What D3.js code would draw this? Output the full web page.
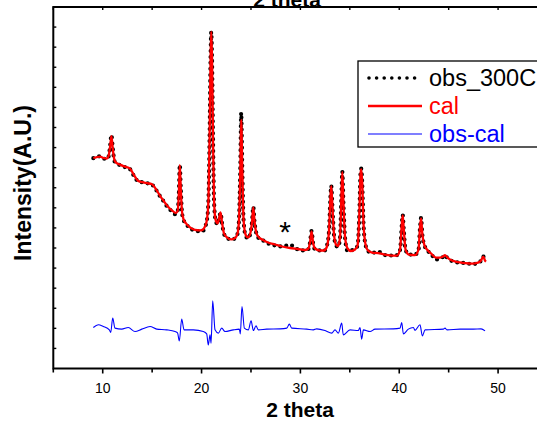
<!DOCTYPE html>
<html>
<head>
<meta charset="utf-8">
<script src="https://cdn.jsdelivr.net/npm/d3@7"></script>
<style>
body { margin: 0; background: #fff; }
svg { display: block; font-family: "Liberation Sans", Arial, sans-serif; }
</style>
</head>
<body>
<div id="chart"></div>
<script>
// 2 theta positions shared by obs and cal
var twoTheta = [9.05, 9.42, 9.73, 10.13, 10.40, 10.59, 10.74, 10.88, 11.02, 11.19, 11.35, 11.75, 12.25, 12.76, 13.17, 13.57, 13.98, 14.48, 14.99, 15.39,
  15.80, 16.20, 16.61, 17.01, 17.37, 17.57, 17.70, 17.80, 17.90, 18.02, 18.18, 18.43, 18.83, 19.34, 19.85, 20.15, 20.35, 20.55, 20.70, 20.81,
  20.91, 20.98, 21.06, 21.16, 21.26, 21.41, 21.62, 21.77, 21.92, 22.07, 22.27, 22.58, 22.98, 23.39, 23.64, 23.79, 23.92, 24.01, 24.12, 24.25,
  24.45, 24.70, 24.95, 25.11, 25.23, 25.36, 25.56, 25.81, 26.22, 26.73, 27.43, 28.14, 28.95, 29.76, 30.46, 30.82, 30.97, 31.13, 31.28, 31.48,
  31.99, 32.39, 32.69, 32.90, 33.03, 33.12, 33.23, 33.40, 33.60, 33.81, 34.01, 34.14, 34.24, 34.36, 34.52, 34.77, 35.12, 35.53, 35.78, 35.96,
  36.08, 36.16, 36.26, 36.39, 36.59, 36.84, 37.25, 37.85, 38.56, 39.27, 39.78, 40.08, 40.26, 40.35, 40.46, 40.64, 40.99, 41.60, 41.95, 42.10,
  42.21, 42.34, 42.56, 42.81, 43.22, 43.72, 44.13, 44.43, 44.63, 44.83, 45.34, 45.95, 46.66, 47.37, 47.97, 48.28, 48.50, 48.68, 48.78];

var calValues = [209.5, 210.5, 211, 209.5, 209, 211.5, 220.5, 231.5, 218.5, 207.5, 205, 203, 201, 199, 192.5, 187, 185.5, 184.5, 183.5, 178.5,
  172, 166.5, 161, 157.5, 155, 156.5, 173.5, 202.5, 178.5, 156.5, 148.5, 144.5, 140.5, 138, 137.5, 138.5, 141.5, 148.5, 168.5, 228.5,
  308.5, 335.5, 308.5, 228.5, 168.5, 148.5, 144.5, 149.5, 155.5, 145.5, 134.5, 130.5, 128.5, 130, 134.5, 148.5, 198.5, 247.5, 198.5, 148.5,
  133.5, 130.5, 135.5, 146.5, 160.5, 146.5, 134.5, 130.5, 128, 125.5, 123.5, 121.5, 120, 119, 118, 119.5, 125.5, 136.5, 125.5, 119.5,
  117.5, 117.5, 121.5, 138.5, 168.5, 181.5, 163.5, 133.5, 123.5, 122, 130.5, 168.5, 195.5, 163.5, 130.5, 119.5, 117, 118.5, 122.5, 153.5,
  193.5, 198.5, 183.5, 143.5, 123.5, 117.5, 115.5, 115, 113.5, 112.5, 112.5, 118.5, 143.5, 152.5, 138.5, 118.5, 113.5, 113, 118.5, 140.5,
  149.5, 133.5, 122.5, 118.5, 114.5, 110.5, 110.5, 111.5, 113, 111, 107.5, 106, 105, 104.5, 105.5, 107.5, 111.5, 107.5, 106.5];

var obsValues = [209.5, 210.5, 211.5, 209, 208.5, 211, 221, 232.5, 219, 206.5, 204.5, 202.5, 200.5, 198.5, 191.5, 186.5, 185.5, 184.5, 183, 178,
  171.5, 166, 160, 156.5, 153.5, 156, 174, 203, 179, 155.5, 148, 144, 139.5, 137.5, 136.5, 137, 141, 148, 169, 229,
  309, 335, 309, 229, 168, 148, 143.5, 149, 155, 145, 134, 130, 128.5, 129.5, 134, 149, 201, 254.5, 200, 148,
  132.5, 129.5, 135, 146.5, 161, 146, 134, 129.5, 127.5, 124.5, 122.5, 121.5, 123, 118.5, 117.5, 119, 125.5, 137, 125, 118.5,
  117.5, 117, 122.5, 138, 169, 182, 163, 133, 122.5, 121, 130, 169, 196, 163, 130, 117, 117.5, 119.5, 122, 153,
  194, 199, 183, 143, 123, 117, 115, 116.5, 113, 112.5, 113, 118, 143, 153, 138, 118, 113.5, 113.5, 118, 140,
  150, 133, 122.5, 118, 114, 108.5, 110, 111, 113, 110.5, 107, 105.5, 105, 104, 105, 107.5, 111.5, 107, 106.5];

// obs - cal difference curve
var diffTheta = [9.05, 9.55, 10.06, 10.67, 10.81, 11.01, 11.24, 11.92, 12.59, 13.27, 13.95, 14.79, 15.46, 16.48, 17.32, 17.57, 17.75, 17.99, 18.23, 19.17,
  20.18, 20.52, 20.68, 20.86, 20.96, 21.13, 21.36, 21.70, 22.04, 22.37, 23.21, 23.82, 23.92, 24.09, 24.33, 24.73, 25.01, 25.24, 25.51, 25.74,
  26.59, 27.94, 28.62, 28.88, 29.12, 30.64, 31.31, 31.65, 32.49, 33.17, 33.50, 33.84, 34.18, 34.34, 35.02, 35.86, 36.03, 36.20, 36.37, 37.05,
  37.55, 39.40, 40.08, 40.25, 40.42, 40.92, 41.43, 41.60, 42.10, 42.34, 42.61, 44.46, 44.63, 44.83, 46.15, 47.50, 48.28, 48.68];
var diffValues = [2.3, 5, 3.3, 0, -2.7, 11.7, 1.7, 0.7, 2.3, -1.7, 0.7, 3.3, 0.7, 0, -1.7, -3, -11, 10.7, 0, 0,
  -1.7, -4, -15, -5, -13.3, 29, 0, -3.3, 1.7, -1.7, 0, 0.7, -4, 23.3, 1.7, 0, 9, -0.7, 4, 0,
  0.7, 1, 1.7, 5.7, 1.7, 0.7, 0, 1, -0.7, -3.3, 0, -3.3, 6.7, -5, 0, -0.7, 2.3, -9.3, 0, -1.7,
  0.7, 1, 1.7, 7.3, -4, 0.7, 2.3, -0.5, 5, -6, 0, 0.7, 1.7, 0, 0.7, 0.7, 1, -1];

var xTicks = [10, 20, 30, 40, 50];
var xMinorTicks = [5, 15, 25, 35, 45, 55];
var yTicks = [20, 40, 60, 80, 100, 120, 140, 160, 180, 200, 220, 240, 260, 280, 300, 320, 340];
var legendNames = ['obs_300C', 'cal', 'obs-cal'];
var legendColors = ['#000', '#ff0000', '#0000ff'];

var width = 537, height = 423;
var diffOffset = 38.5;

var svg = d3.select('#chart').append('svg')
    .attr('width', width)
    .attr('height', height);

var x = d3.scaleLinear().domain([5, 55]).range([53.3, 547.5]);
var y = d3.scaleLinear().domain([0, 360]).range([368.5, 7]);

// frame
svg.append('rect')
    .attr('x', x(5)).attr('y', y(360))
    .attr('width', x(55) - x(5)).attr('height', y(0) - y(360))
    .attr('fill', 'none').attr('stroke', '#000').attr('stroke-width', 2);

// bottom axis, outward ticks
var bottom = svg.append('g').attr('transform', 'translate(0,' + y(0) + ')');
bottom.selectAll('.maj').data(xTicks).enter().append('line')
    .attr('x1', function(d) { return x(d); }).attr('x2', function(d) { return x(d); })
    .attr('y1', 0).attr('y2', 5).attr('stroke', '#000').attr('stroke-width', 1.6);
bottom.selectAll('.min').data(xMinorTicks).enter().append('line')
    .attr('x1', function(d) { return x(d); }).attr('x2', function(d) { return x(d); })
    .attr('y1', 0).attr('y2', 4).attr('stroke', '#000').attr('stroke-width', 1.6);
bottom.selectAll('text').data(xTicks).enter().append('text')
    .attr('x', function(d) { return x(d); }).attr('y', 24)
    .attr('text-anchor', 'middle').attr('font-size', 14)
    .text(function(d) { return d; });

// top axis, inward ticks
svg.selectAll('.toptick').data(xTicks.concat(xMinorTicks)).enter().append('line')
    .attr('x1', function(d) { return x(d); }).attr('x2', function(d) { return x(d); })
    .attr('y1', y(360)).attr('y2', y(360) + 3).attr('stroke', '#000').attr('stroke-width', 1.4);

// left axis, inward ticks without labels
svg.selectAll('.ytick').data(yTicks).enter().append('line')
    .attr('x1', x(5)).attr('x2', x(5) + 3)
    .attr('y1', function(d) { return y(d); }).attr('y2', function(d) { return y(d); })
    .attr('stroke', '#000').attr('stroke-width', 1.4);

// titles (top one is clipped by the window edge, as in the original)
svg.append('text').attr('x', 300).attr('y', 417)
    .attr('text-anchor', 'middle').attr('font-size', 21).attr('font-weight', 'bold')
    .text('2 theta');
svg.append('text').attr('x', 287).attr('y', 7)
    .attr('text-anchor', 'middle').attr('font-size', 21).attr('font-weight', 'bold')
    .text('2 theta');
svg.append('text')
    .attr('transform', 'translate(31,183) rotate(-90)')
    .attr('text-anchor', 'middle').attr('font-size', 23).attr('font-weight', 'bold')
    .text('Intensity(A.U.)');

// data
var obsLine = d3.line()
    .x(function(d, i) { return x(twoTheta[i]); })
    .y(function(d) { return y(d); })
    .curve(d3.curveMonotoneX);

var diffLine = d3.line()
    .x(function(d, i) { return x(diffTheta[i]); })
    .y(function(d) { return y(d + diffOffset); })
    .curve(d3.curveMonotoneX);

svg.append('path').datum(obsValues)
    .attr('d', obsLine)
    .attr('fill', 'none').attr('stroke', '#000').attr('stroke-width', 4.2)
    .attr('stroke-linecap', 'round').attr('stroke-dasharray', '0,6');

svg.append('path').datum(calValues)
    .attr('d', obsLine)
    .attr('fill', 'none').attr('stroke', '#ff0000').attr('stroke-width', 2.3)
    .attr('stroke-linejoin', 'round');

svg.append('path').datum(diffValues)
    .attr('d', diffLine)
    .attr('fill', 'none').attr('stroke', '#0000ff').attr('stroke-width', 1.1);

// star marking impurity
svg.append('text').attr('x', 285).attr('y', 242)
    .attr('text-anchor', 'middle').attr('font-size', 30)
    .text('*');

// legend
var legend = svg.append('g');
legend.append('rect')
    .attr('x', 358).attr('y', 61).attr('width', 200).attr('height', 86)
    .attr('fill', '#fff').attr('stroke', '#000').attr('stroke-width', 1.3);
var items = legend.selectAll('.item').data(legendNames).enter().append('g')
    .attr('transform', function(d, i) { return 'translate(0,' + (78 + i * 28) + ')'; });
items.append('line')
    .attr('x1', function(d, i) { return i === 0 ? 369 : 368; })
    .attr('x2', 422).attr('y1', 0).attr('y2', 0)
    .attr('stroke', function(d, i) { return legendColors[i]; })
    .attr('stroke-width', function(d, i) { return i === 0 ? 3.6 : (i === 1 ? 2.4 : 1.1); })
    .attr('stroke-linecap', function(d, i) { return i === 0 ? 'round' : 'butt'; })
    .attr('stroke-dasharray', function(d, i) { return i === 0 ? '0,7.6' : null; });
items.append('text')
    .attr('x', 429).attr('y', 8)
    .attr('font-size', 23.5)
    .attr('fill', function(d, i) { return legendColors[i]; })
    .text(function(d) { return d; });
</script>
</body>
</html>
